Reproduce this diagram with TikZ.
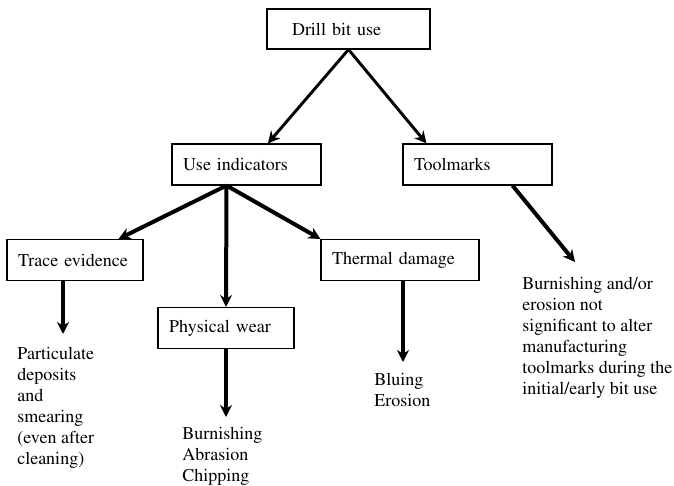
\documentclass[tikz,border=0pt]{standalone}
\usepackage[T1]{fontenc}
\usepackage{times}
\usetikzlibrary{arrows.meta}

\tikzset{
  box/.style={draw, line width=0.8pt, align=left, inner xsep=8.25pt, minimum height=30.75pt},
  note/.style={anchor=north west, inner sep=0pt, align=left},
  link/.style={line width=2.2pt, -{Stealth[length=9pt,width=9pt]}},
  leg/.style={line width=3pt, -{Stealth[length=9pt,width=9pt]}}
}

\begin{document}
\begin{tikzpicture}[x=0.75pt,y=-0.75pt,font=\rmfamily\fontsize{13.5}{15.75}\selectfont]
	\useasboundingbox (0,0) rectangle (674,485);
	% boxes
	\node[box, text width=84.75pt, inner xsep=18.75pt, minimum height=30pt] (drill) at (348.5,29) {Drill bit use};
	\node[box, text width=95.25pt] (useind) at (246.5,164.5) {Use indicators};
	\node[box, text width=95.25pt] (tool) at (477.5,164.5) {Toolmarks};
	\node[box, text width=85.5pt] (trace) at (75,260) {Trace evidence};
	\node[box, text width=85.5pt] (phys) at (226,328) {Physical wear};
	\node[box, text width=102pt] (thermal) at (400,260) {Thermal damage};
	% outcomes
	\node[note] (traceout) at (17,347) {Particulate\\deposits\\and\\smearing\\(even after\\cleaning)};
	\node[note] (physout) at (182,427) {Burnishing\\Abrasion\\Chipping};
	\node[note] (thermout) at (374,373) {Bluing\\Erosion};
	\node[note] (toolout) at (522,277) {Burnishing and/or\\erosion not\\significant to alter\\manufacturing\\toolmarks during the\\initial/early bit use};
	% arrow ends
	\coordinate (hub) at ([xshift=-15pt]useind.south);
	\coordinate (traceend) at (63,334);
	\coordinate (physend) at (226,417);
	\coordinate (thermend) at (403,362);
	\coordinate (toolend) at (575,262);
	% arrows
	\draw[link] (drill.south) -- ([xshift=16pt]useind.north);
	\draw[link] (drill.south) -- ([xshift=18pt]tool.north west);
	\draw[leg] (hub) -- ([xshift=-18.75pt]trace.north east);
	\draw[leg] (hub) -- (phys.north);
	\draw[leg] (hub) -- (thermal.north west);
	\draw[leg] (trace.south -| traceend) -- (traceend);
	\draw[leg] (phys.south) -- (physend);
	\draw[leg] (thermal.south -| thermend) -- (thermend);
	\draw[leg] ([xshift=26.25pt]tool.south) -- (toolend);
\end{tikzpicture}
\end{document}
